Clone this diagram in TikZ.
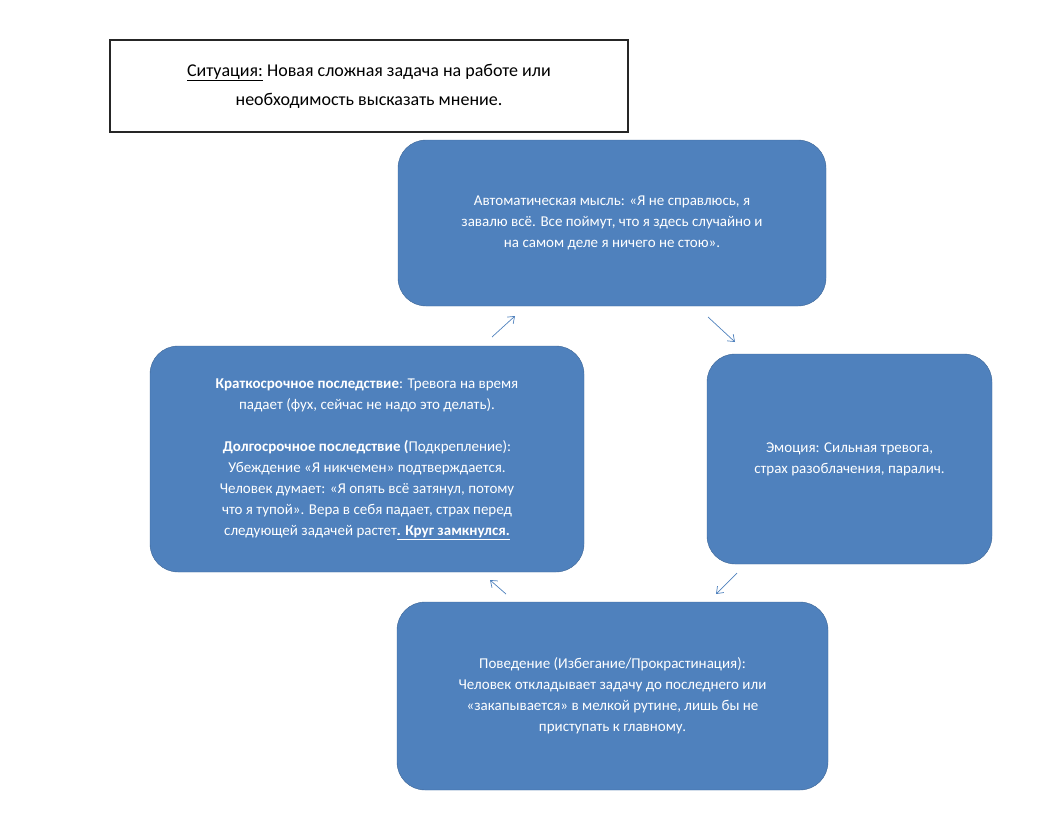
\documentclass[tikz,border=0pt]{standalone}
\usepackage{fontspec}
\setmainfont{Carlito}
\usetikzlibrary{arrows.meta}
\definecolor{boxblue}{HTML}{4F81BD}
\begin{document}
\begin{tikzpicture}[x=1pt,y=-1pt,
  blk/.style={draw=boxblue!80!black,fill=boxblue,rounded corners=28pt,text=white,align=center,font=\fontsize{15}{21}\selectfont,inner sep=0pt},
  arr/.style={draw=boxblue,line width=0.7pt,-{Straight Barb[length=6pt,width=9pt]}}]
\useasboundingbox (0,0) rectangle (1055,825);
\node[draw=black!85,line width=2pt,fill=white,minimum width=518pt,minimum height=92pt,align=center,font=\fontsize{18}{29}\selectfont] (sit) at (369,86)
 {\underline{Ситуация:} Новая сложная задача на работе или\\ необходимость высказать мнение.};
\node[blk,minimum width=428pt,minimum height=166pt] (top) at (612,223)
 {Автоматическая мысль: «Я не справлюсь, я\\ завалю всё. Все поймут, что я здесь случайно и\\ на самом деле я ничего не стою».};
\node[blk,minimum width=285pt,minimum height=210pt] (right) at (849.5,459)
 {Эмоция: Сильная тревога,\\ страх разоблачения, паралич.};
\node[blk,minimum width=431pt,minimum height=188pt] (bot) at (612.5,696)
 {Поведение (Избегание/Прокрастинация):\\ Человек откладывает задачу до последнего или\\ «закапывается» в мелкой рутине, лишь бы не\\ приступать к главному.};
\node[blk,minimum width=434pt,minimum height=226pt] (left) at (367,459)
 {\textbf{Краткосрочное последствие}: Тревога на время\\ падает (фух, сейчас не надо это делать).\\[21pt]
 \textbf{Долгосрочное последствие (}Подкрепление):\\ Убеждение «Я никчемен» подтверждается.\\ Человек думает: «Я опять всё затянул, потому\\ что я тупой». Вера в себя падает, страх перед\\ следующей задачей растет\textbf{\underline{. Круг замкнулся.}}};
\coordinate (a1s) at (492,337); \coordinate (a1e) at (515,316);
\coordinate (a2s) at (708,317); \coordinate (a2e) at (735,342);
\coordinate (a3s) at (737,573); \coordinate (a3e) at (716,594);
\coordinate (a4s) at (506,594); \coordinate (a4e) at (490,580);
\draw[arr] (a1s) -- (a1e);
\draw[arr] (a2s) -- (a2e);
\draw[arr] (a3s) -- (a3e);
\draw[arr] (a4s) -- (a4e);
\end{tikzpicture}
\end{document}
